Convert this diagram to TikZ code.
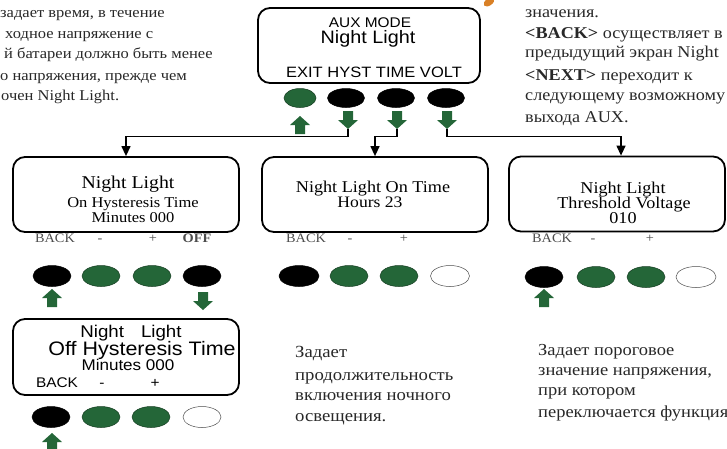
\documentclass[tikz,border=0pt]{standalone}
\usepackage{fontspec}
\setmainfont{Liberation Serif}[FakeStretch=1.1]
\setsansfont{Liberation Sans}[FakeStretch=1.1]
\usetikzlibrary{shapes.geometric,arrows.meta}
\definecolor{keygreen}{RGB}{36,102,56}
\definecolor{txtgray}{RGB}{40,40,40}
\newcommand{\fs}[1]{\fontsize{#1}{#1}\selectfont}

\begin{document}
\begin{tikzpicture}[x=1pt, y=-1pt,
    lcd/.style={draw, rounded corners=12pt, line width=1.8pt, minimum width=226pt, minimum height=75pt, inner sep=0pt},
    key/.style={draw, ellipse, line width=0.5pt, minimum width=38pt, minimum height=21pt, inner sep=0pt},
    blk/.style={key, fill=black},
    grn/.style={key, fill=keygreen, draw=keygreen!60!black},
    wht/.style={key, fill=white, draw=black!70},
    up/.style={minimum width=20pt, minimum height=18pt, inner sep=0pt,
      path picture={\fill[keygreen, shift={(path picture bounding box.center)}]
        (0,-9) -- (10,0) -- (5,0) -- (5,9) -- (-5,9) -- (-5,0) -- (-10,0) -- cycle;}},
    down/.style={minimum width=20pt, minimum height=18pt, inner sep=0pt,
      path picture={\fill[keygreen, shift={(path picture bounding box.center)}]
        (0,9) -- (10,0) -- (5,0) -- (5,-9) -- (-5,-9) -- (-5,0) -- (-10,0) -- cycle;}},
    link/.style={line width=1.3pt, -{Triangle[width=9pt,length=10pt]}},
    ln/.style={anchor=base, inner sep=0pt},
    lbl/.style={anchor=base, inner sep=0pt, text=black!70, font=\fs{13}},
    txt/.style={anchor=base west, inner sep=0pt, text=txtgray, font=\fs{15}}]
\useasboundingbox (0,0) rectangle (727,448);
\clip (0,0) rectangle (727,448);

% main screen
\node[lcd, minimum width=222pt] (aux) at (369,45.5) {};
\node[ln, font=\sffamily\fs{14}] (aux1) at (370,27) {AUX MODE};
\node[ln, font=\sffamily\fs{18}] (aux2) at (368,43) {Night Light};
\node[ln, font=\sffamily\fs{15}] (aux3) at (374,77) {EXIT HYST TIME VOLT};
\node[grn, minimum width=32pt, minimum height=19pt] (k0) at (300,98) {};
\node[blk, minimum width=37pt, minimum height=19pt] (k1) at (346,98) {};
\node[blk, minimum width=37pt, minimum height=19pt] (k2) at (396,98) {};
\node[blk, minimum width=37pt, minimum height=19pt] (k3) at (446,98) {};
\node[up] (a0) at (300,125) {};
\node[down] (a1) at (348,120) {};
\node[down] (a2) at (397,120) {};
\node[down] (a3) at (447,120) {};
\fill[brown!60!orange] (489,2) ellipse [x radius=6, y radius=3.5, rotate=35];

% on hysteresis
\node[lcd] (s1) at (126,194.5) {};
\node[ln, font=\fs{18}] (s1a) at (128,188) {Night Light};
\node[ln, font=\fs{15}] (s1b) at (133,207) {On Hysteresis Time};
\node[ln, font=\fs{15}] (s1c) at (133,222) {Minutes 000};
\node[lbl] (b1a) at (55,242) {BACK};
\node[lbl] (b1b) at (100,242) {-};
\node[lbl] (b1c) at (153,242) {+};
\node[lbl, font=\bfseries\fs{13}] (b1d) at (197,242) {OFF};
\node[blk] (k10) at (52,276) {};
\node[grn] (k11) at (101,276) {};
\node[grn] (k12) at (152,276) {};
\node[blk] (k13) at (202,276) {};
\node[up] (a10) at (52,298) {};
\node[down] (a13) at (203,301) {};

% on time
\node[lcd] (s2) at (375,194.5) {};
\node[ln, font=\fs{16.5}] (s2a) at (373,192) {Night Light On Time};
\node[ln, font=\fs{16}] (s2b) at (370,207) {Hours 23};
\node[lbl] (b2a) at (306,242) {BACK};
\node[lbl] (b2b) at (350,242) {-};
\node[lbl] (b2c) at (404,242) {+};
\node[blk, minimum width=40pt] (k20) at (299,276) {};
\node[grn] (k21) at (349,276) {};
\node[grn] (k22) at (399,276) {};
\node[wht, minimum width=39pt] (k23) at (450,276) {};

% threshold voltage
\node[lcd, minimum width=216pt] (s3) at (617,194) {};
\node[ln, font=\fs{16.5}] (s3a) at (623,193) {Night Light};
\node[ln, font=\fs{16.5}] (s3b) at (624,208) {Threshold Voltage};
\node[ln, font=\fs{16.5}] (s3c) at (623,223) {010};
\node[lbl] (b3a) at (552,242) {BACK};
\node[lbl] (b3b) at (593,242) {-};
\node[lbl] (b3c) at (650,242) {+};
\node[blk] (k30) at (544,277) {};
\node[grn] (k31) at (596,277) {};
\node[grn] (k32) at (646,277) {};
\node[wht, minimum width=40pt] (k33) at (696,277) {};
\node[up] (a30) at (544,298) {};

% off hysteresis
\node[lcd, minimum height=76pt] (s4) at (126,357) {};
\node[ln, font=\sffamily\fs{17}] (s4a) at (131,337) {Night\quad Light};
\node[ln, font=\sffamily\fs{19.5}] (s4b) at (142,355) {Off Hysteresis Time};
\node[ln, font=\sffamily\fs{15.5}] (s4c) at (128,370) {Minutes 000};
\node[lbl, text=black, font=\sffamily\fs{14}] (b4a) at (57,387) {BACK};
\node[lbl, text=black, font=\sffamily\fs{14}] (b4b) at (102,387) {-};
\node[lbl, text=black, font=\sffamily\fs{14}] (b4c) at (155,387) {+};
\node[blk] (k40) at (51,417) {};
\node[grn] (k41) at (101,417) {};
\node[grn] (k42) at (151,417) {};
\node[wht] (k43) at (202,417) {};
\node[up] (a40) at (52,442) {};

% links
\draw[link] (a1.south) -- ++(0,7) -| (s1.north);
\draw[link] (a2.south) -- ++(0,7) -| (s2.north);
\draw[link] (a3.south) -- ++(0,7) -| ([xshift=4pt]s3.north);

% notes
\node[txt] (t1) at (0,17) {задает время, в течение};
\node[txt] (t2) at (5,38) {ходное напряжение с};
\node[txt] (t3) at (4,58) {й батареи должно быть менее};
\node[txt] (t4) at (0,80) {о напряжения, прежде чем};
\node[txt] (t5) at (1,100) {очен Night Light.};
\node[txt, font=\fs{16.5}] (r1) at (525,17) {значения.};
\node[txt, font=\fs{16.5}] (r2) at (525,38) {\textbf{<BACK>} осуществляет в};
\node[txt, font=\fs{16.5}] (r3) at (525,57) {предыдущий экран Night};
\node[txt, font=\fs{16.5}] (r4) at (525,80) {\textbf{<NEXT>} переходит к};
\node[txt, font=\fs{16.5}] (r5) at (525,100) {следующему возможному};
\node[txt, font=\fs{16.5}] (r6) at (525,122) {выхода AUX.};
\node[txt, font=\fs{17}] (m1) at (295,357) {Задает};
\node[txt, font=\fs{17}] (m2) at (295,380) {продолжительность};
\node[txt, font=\fs{17}] (m3) at (295,400) {включения ночного};
\node[txt, font=\fs{17}] (m4) at (295,421) {освещения.};
\node[txt, font=\fs{16.8}] (v1) at (538,355) {Задает пороговое};
\node[txt, font=\fs{16.8}] (v2) at (538,375) {значение напряжения,};
\node[txt, font=\fs{16.8}] (v3) at (538,395) {при котором};
\node[txt, font=\fs{16.8}] (v4) at (538,417) {переключается функция};
\end{tikzpicture}
\end{document}
